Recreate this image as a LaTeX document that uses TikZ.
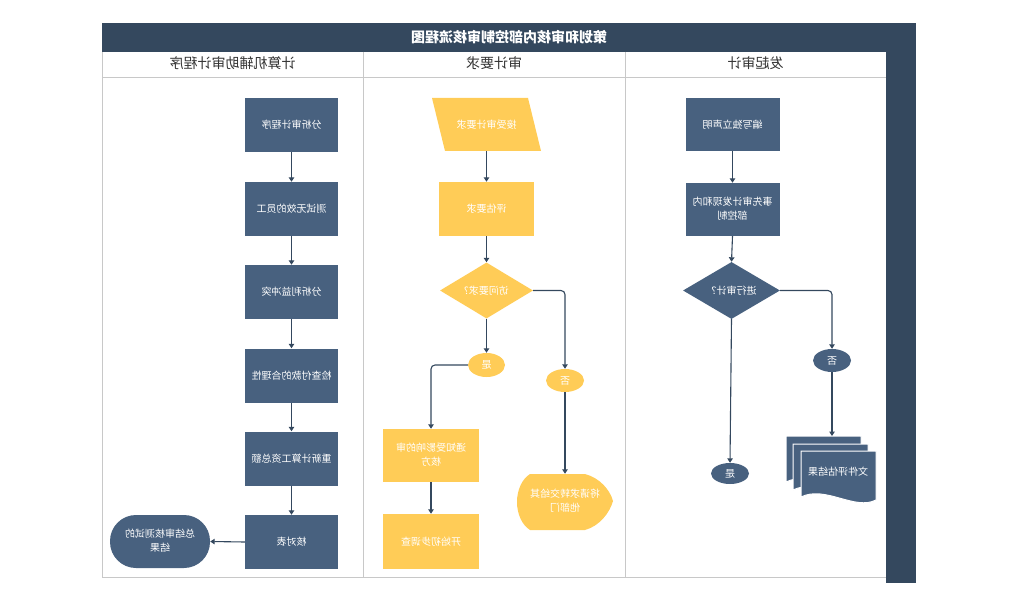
\documentclass[tikz,border=0pt]{standalone}
\usepackage{fontspec}
\setmainfont{Noto Sans CJK SC}
\usepackage{graphicx}
\usetikzlibrary{shapes.geometric,arrows.meta}
\definecolor{frame}{HTML}{34485E}
\definecolor{nblue}{HTML}{48617F}
\definecolor{nyel}{HTML}{FFCC57}
\definecolor{lgray}{HTML}{C8C8C8}
\newcommand{\mir}[1]{\reflectbox{#1}}
\newcommand{\mirr}[2]{\reflectbox{\begin{tabular}{@{}c@{}}#1\\#2\end{tabular}}}
\begin{document}
\begin{tikzpicture}[x=1pt,y=-1pt,
  txt/.style={text=white, inner sep=0pt, font=\fontsize{10}{14}\selectfont},
  box/.style={txt, rectangle, fill=nblue, minimum width=93pt, minimum height=54pt},
  ybox/.style={box, fill=nyel, minimum width=96pt, minimum height=54pt},
  dia/.style={diamond, inner sep=0pt, minimum width=93pt, minimum height=56pt},
  oval/.style={txt, ellipse, minimum width=38pt, minimum height=23pt},
  conn/.style={draw=frame, line width=1.1pt, rounded corners=4pt, -{Triangle[width=5.5pt,length=4.5pt]}},
  head/.style={inner sep=0pt, text=black!80, font=\fontsize{14}{16}\selectfont},
  ttl/.style={inner sep=0pt, text=white, font=\fontsize{14}{16}\selectfont\bfseries}]
\useasboundingbox (0,0) rectangle (1023,604);
% frame
\fill[frame] (102,23) rectangle (916,52);
\fill[frame] (886,52) rectangle (916,583);
\draw[lgray, line width=1pt] (102,52) -- (102,577) -- (886,577);
\draw[lgray, line width=1pt] (102,78) -- (886,78);
\draw[lgray, line width=1pt] (363,52) -- (363,577);
\draw[lgray, line width=1pt] (625,52) -- (625,577);
\node[ttl] (title) at (509,37) {\mir{策划和审核内部控制审核流程图}};
\node[head] (h1) at (232.5,63) {\mir{计算机辅助审计程序}};
\node[head] (h2) at (494,63) {\mir{审计要求}};
\node[head] (h3) at (755.5,63) {\mir{发起审计}};
% left lane
\node[box] (a1) at (291.5,125) {\mir{分析审计程序}};
\node[box] (a2) at (291.5,209) {\mir{测试无效的员工}};
\node[box] (a3) at (291.5,292) {\mir{分析利益冲突}};
\node[box] (a4) at (291.5,375.5) {\mir{检查付款的合理性}};
\node[box] (a5) at (291.5,458.5) {\mir{重新计算工资总额}};
\node[box] (a6) at (291.5,542) {\mir{核对表}};
\node[txt, rectangle, rounded corners=26pt, fill=nblue, minimum width=100pt, minimum height=53pt] (term) at (160,541.5) {\mirr{总结审核测试的}{结果}};
\draw[conn] (a1) -- (a2);
\draw[conn] (a2) -- (a3);
\draw[conn] (a3) -- (a4);
\draw[conn] (a4) -- (a5);
\draw[conn] (a5) -- (a6);
\draw[conn] (a6.west) -- (term.east);
% middle lane
\fill[nyel] (432,98) -- (528,98) -- (541,151) -- (445,151) -- cycle;
\node[txt, minimum width=96pt, minimum height=53pt] (b1) at (486.5,124.5) {\mir{接受审计要求}};
\node[ybox, minimum width=95pt] (b2) at (486.5,209) {\mir{评估要求}};
\node[dia, fill=nyel] (b3) at (486.5,290.5) {};
\node[txt] (b3t) at (b3.center) {\mir{访问要求?}};
\node[oval, fill=nyel, minimum width=37pt, minimum height=24pt] (byes) at (486.5,365) {\mir{是}};
\node[oval, fill=nyel] (bno) at (565,380.5) {\mir{否}};
\node[ybox, minimum height=53pt] (b4) at (431,455.5) {\mirr{通知受影响的审}{核方}};
\node[ybox, minimum height=55pt] (b5) at (431,541.5) {\mir{开始初步调查}};
\fill[nyel] (530,474) -- (585,474) .. controls (600,478) and (610,490) .. (613,501)
  .. controls (610,512) and (600,526) .. (585,530) -- (530,530)
  .. controls (522,525) and (517,514) .. (517,502) .. controls (517,490) and (522,479) .. (530,474) -- cycle;
\node[txt, minimum width=96pt, minimum height=56pt] (b6) at (565,502) {\mirr{将请求转交给其}{他部门}};
\draw[conn] (b1.south) -- (b2.north);
\draw[conn] (b2.south) -- (b3.north);
\draw[conn] (b3.south) -- (byes.north);
\draw[conn] (b3.east) -| (bno.north);
\draw[conn] (byes.west) -| (b4.north);
\draw[conn] (b4.south) -- (b5.north);
\draw[conn] (bno.south) -- (b6.north);
% right lane
\node[box, minimum width=94pt, minimum height=53pt] (c1) at (732.5,124.5) {\mir{编写独立声明}};
\node[box, minimum width=94pt, minimum height=53pt] (c2) at (732.5,209.5) {\mirr{事先审计发现和内}{部控制}};
\node[dia, fill=nblue, minimum width=97pt, minimum height=57pt] (c3) at (731.5,290.5) {};
\node[txt] (c3t) at (c3.center) {\mir{进行审计？}};
\node[oval, fill=nblue, minimum height=21pt] (cyes) at (730,473.5) {\mir{是}};
\node[oval, fill=nblue] (cno) at (832,360.5) {\mir{否}};
\foreach \dx/\dy in {0/0, 7/8, 15/15}{
  \filldraw[fill=nblue, draw=white, line width=1pt]
    (786+\dx,436+\dy) -- (861+\dx,436+\dy) -- (861+\dx,485+\dy)
    .. controls (840+\dx,496+\dy) and (810+\dx,470+\dy) .. (786+\dx,482+\dy) -- cycle;
}
\coordinate (dtop) at (832,436);
\node[txt] (doc) at (838,472) {\mir{文件评估结果}};
\draw[conn] (c1.south) -- (c2.north);
\draw[conn] (c2.south) -- (c3.north);
\draw[conn] (c3.south) -- (cyes.north);
\draw[conn] (c3.east) -| (cno.north);
\draw[conn] (cno.south) -- (dtop);
\end{tikzpicture}
\end{document}
